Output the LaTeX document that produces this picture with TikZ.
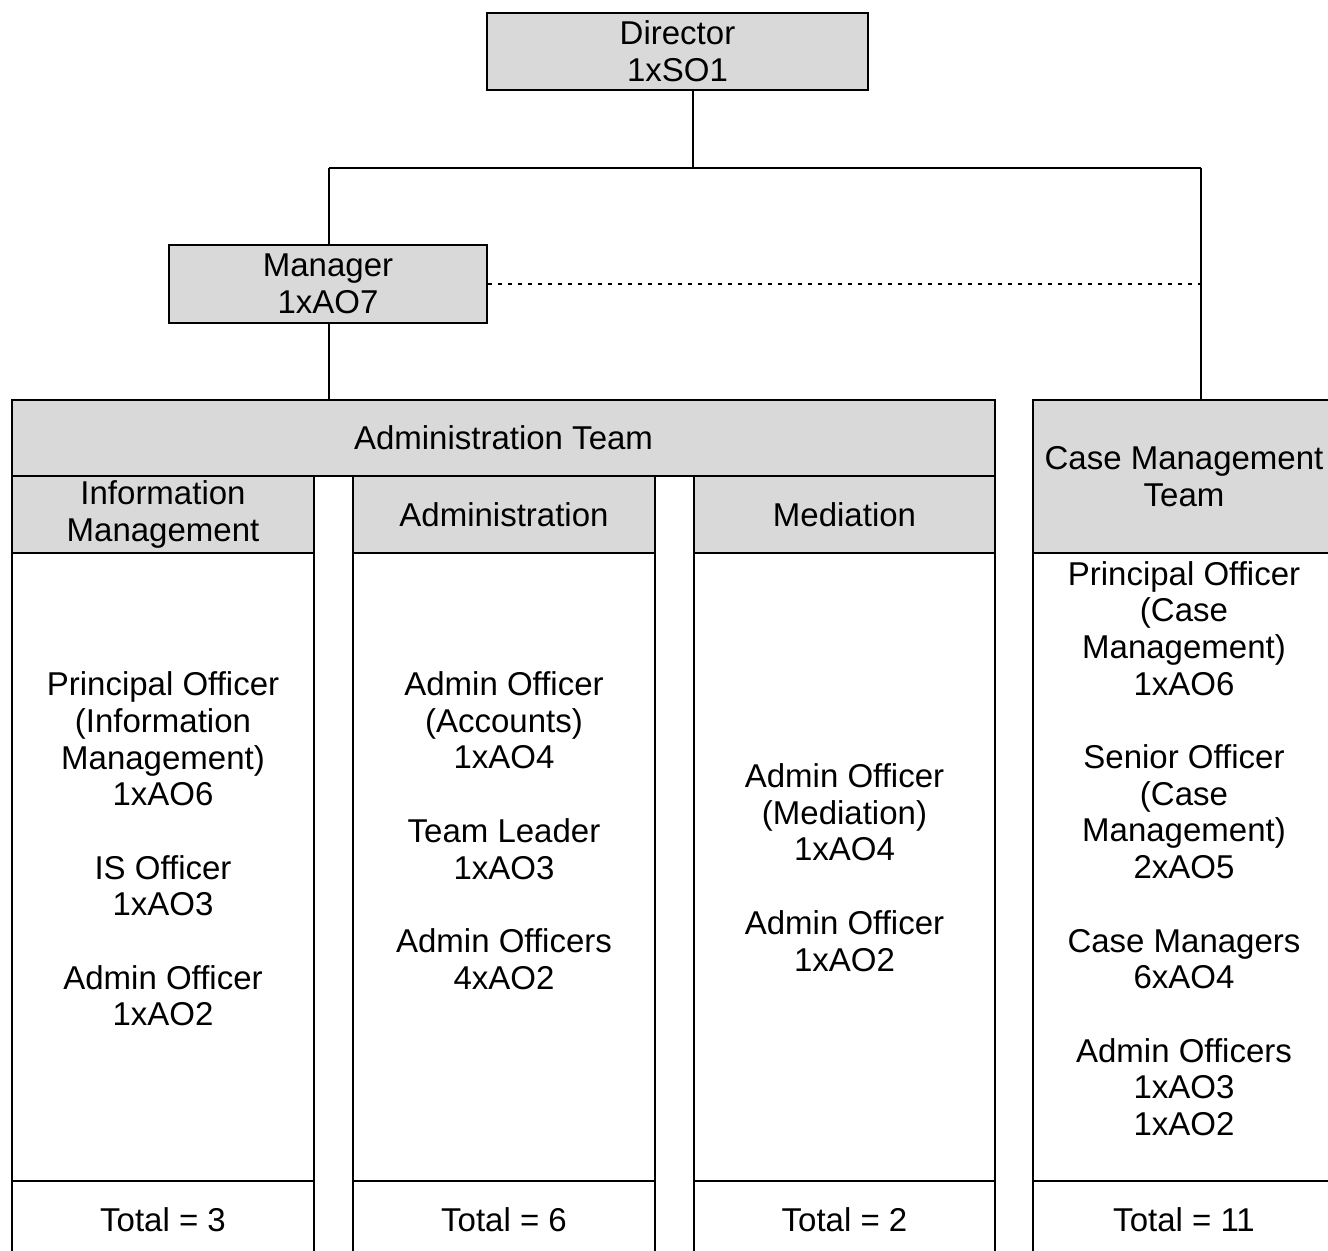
\documentclass[tikz,border=0pt]{standalone}
\usepackage{fontspec}
\setmainfont{Liberation Sans}
\definecolor{boxgray}{RGB}{217,217,217}
\begin{document}
\begin{tikzpicture}[x=0.5pt,y=-0.5pt,
  every node/.style={font=\fontsize{16.5}{18.35}\selectfont, align=center, inner sep=0pt},
  gbox/.style={draw, fill=boxgray, line width=1.2pt},
  wbox/.style={draw, fill=white, line width=1.2pt},
  conn/.style={line width=1.2pt},
  dconn/.style={line width=0.9pt, dash pattern=on 2pt off 3pt}]
\useasboundingbox (0,0) rectangle (1328,1251);
% top boxes
\node[gbox, minimum width=190.5pt, minimum height=38.5pt] (director) at (677.5,51.5) {Director\\1xSO1};
\node[gbox, minimum width=159pt, minimum height=39pt] (manager) at (328,284) {Manager\\1xAO7};
% team headers
\node[gbox, minimum width=491.5pt, minimum height=38pt] (adminteam) at (503.5,438) {Administration Team};
\node[gbox, minimum width=151pt, minimum height=76.5pt] (casehead) at (1184,476.5) {Case Management\\Team};
% sub headers
\node[gbox, minimum width=151pt, minimum height=38.5pt] (infohead) at (163,514.5) {Information\\Management};
\node[gbox, minimum width=151pt, minimum height=38.5pt] (admhead) at (504,514.5) {Administration};
\node[gbox, minimum width=150.5pt, minimum height=38.5pt] (medhead) at (844.5,514.5) {Mediation};
% bodies
\node[wbox, minimum width=151pt, minimum height=314pt] (infobody) at (163,867) {};
\node[wbox, minimum width=151pt, minimum height=314pt] (admbody) at (504,867) {};
\node[wbox, minimum width=150.5pt, minimum height=314pt] (medbody) at (844.5,867) {};
\node[wbox, minimum width=151pt, minimum height=314pt] (casebody) at (1184,867) {};
% totals
\node[wbox, minimum width=151pt, minimum height=39pt] (infotot) at (163,1220) {Total = 3};
\node[wbox, minimum width=151pt, minimum height=39pt] (admtot) at (504,1220) {Total = 6};
\node[wbox, minimum width=150.5pt, minimum height=39pt] (medtot) at (844.5,1220) {Total = 2};
\node[wbox, minimum width=151pt, minimum height=39pt] (casetot) at (1184,1220) {Total = 11};
% body texts
\node (infotxt) at (163,849) {Principal Officer\\(Information\\Management)\\1xAO6\\[18.35pt]IS Officer\\1xAO3\\[18.35pt]Admin Officer\\1xAO2};
\node (admtxt) at (504,830.5) {Admin Officer\\(Accounts)\\1xAO4\\[18.35pt]Team Leader\\1xAO3\\[18.35pt]Admin Officers\\4xAO2};
\node (medtxt) at (844.5,867.5) {Admin Officer\\(Mediation)\\1xAO4\\[18.35pt]Admin Officer\\1xAO2};
\node (casetxt) at (1184,848.5) {Principal Officer\\(Case\\Management)\\1xAO6\\[18.35pt]Senior Officer\\(Case\\Management)\\2xAO5\\[18.35pt]Case Managers\\6xAO4\\[18.35pt]Admin Officers\\1xAO3\\1xAO2};
% connectors
\coordinate (jT) at (693,168);
\coordinate (jL) at (329,168);
\coordinate (jR) at (1201,168);
\draw[conn] (director.south -| jT) -- (jT);
\draw[conn] (jL) -- (jR);
\draw[conn] (jL) -- (manager.north -| jL);
\draw[conn] (jR) -- (casehead.north -| jR);
\draw[conn] (manager.south -| jL) -- (adminteam.north -| jL);
\draw[dconn] (manager.east) -- (manager.east -| jR);
\end{tikzpicture}
\end{document}
